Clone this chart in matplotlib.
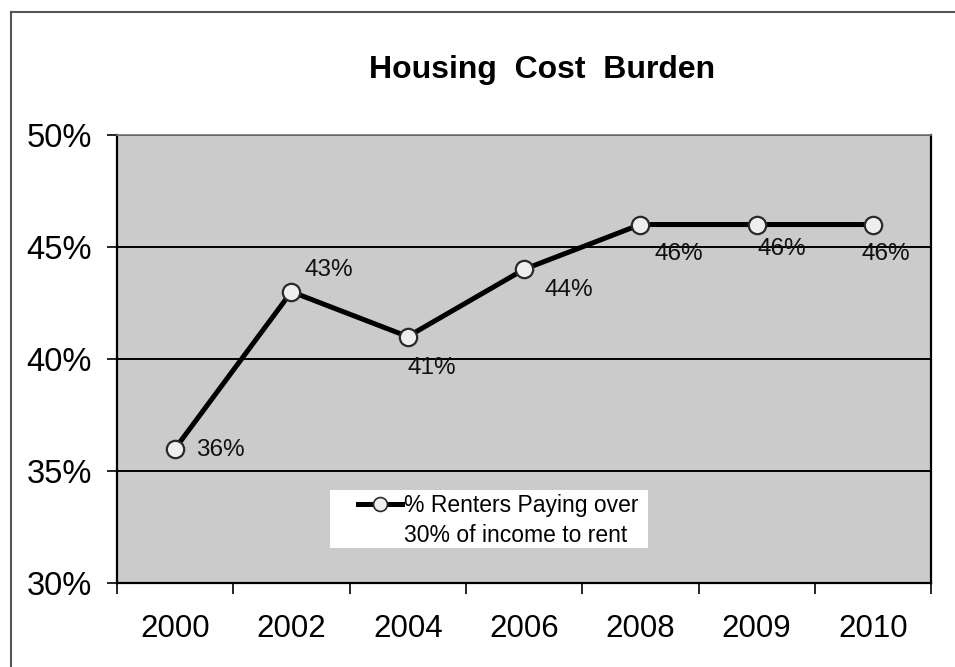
import matplotlib

matplotlib.use("Agg")
import matplotlib.pyplot as plt
import numpy as np
from matplotlib.lines import Line2D
from matplotlib.patches import Rectangle
from matplotlib.ticker import FuncFormatter

plt.rcParams["font.family"] = ["Liberation Sans", "DejaVu Sans"]

years = ["2000", "2002", "2004", "2006", "2008", "2009", "2010"]
share_over_30 = [36, 43, 41, 44, 46, 46, 46]  # % of renters
value_labels = ["36%", "43%", "41%", "44%", "46%", "46%", "46%"]

# where each value label sits relative to its point (pixels, up is +)
label_offsets = [(45, -1), (37, 22), (24, -31), (45, -21), (38, -29), (25, -24), (13, -29)]

fig = plt.figure(figsize=(9.55, 6.67), dpi=100)
fig.patch.set_facecolor("white")
ax = fig.add_axes([0.1225, 0.126, 0.8525, 0.6717])
ax.set_facecolor("#cbcbcb")

# page frame around the chart (left and top edges only)
fig.add_artist(Line2D([0.0115, 0.0115], [0.0, 0.982], transform=fig.transFigure,
                      color="#555555", lw=1.5))
fig.add_artist(Line2D([0.0115, 1.0], [0.982, 0.982], transform=fig.transFigure,
                      color="#555555", lw=1.5))

x = np.arange(len(years))
ax.plot(x, share_over_30, color="black", lw=3.6, marker="o", markersize=12.5,
        markerfacecolor="#eeeeee", markeredgecolor="#2a2a2a", markeredgewidth=1.6,
        zorder=4)

for xi, yi, txt, (dx, dy) in zip(x, share_over_30, value_labels, label_offsets):
    ax.annotate(txt, (xi, yi), xytext=(dx, dy), textcoords="offset pixels",
                ha="center", va="center", fontsize=17.5, color="#111111", zorder=5)

ax.set_xlim(-0.5, len(years) - 0.5)
ax.set_ylim(30, 50)
ax.set_yticks([30, 35, 40, 45, 50])
ax.yaxis.set_major_formatter(FuncFormatter(lambda v, _: f"{v:.0f}%"))
ax.set_xticks(x)
ax.set_xticklabels(years)
ax.set_xticks(np.arange(-0.5, len(years), 1), minor=True)

ax.tick_params(axis="x", which="major", length=0, pad=22, labelsize=22.5)
ax.tick_params(axis="x", which="minor", length=8, width=1.2, direction="out")
ax.tick_params(axis="y", length=7, width=1.2, pad=11, labelsize=23.5)

ax.grid(axis="y", color="black", lw=1.4)
ax.set_axisbelow(True)
for side in ["left", "bottom", "right"]:
    ax.spines[side].set_color("black")
    ax.spines[side].set_linewidth(1.6)
ax.spines["top"].set_color("#7a7a7a")
ax.spines["top"].set_linewidth(1.2)

fig.text(0.568, 0.895, "Housing  Cost  Burden", ha="center", va="center",
         fontsize=23, fontweight="bold")

# white legend panel, wider on the left than the text needs
ax.add_patch(Rectangle((0.2617, 0.078), 0.3907, 0.1295, transform=ax.transAxes,
                       facecolor="white", edgecolor="none", zorder=5))

# legend: second line of the label gets an empty handle so the marker sits on line one
handles = [
    Line2D([], [], color="black", lw=3.6, marker="o", markersize=10,
           markerfacecolor="#eeeeee", markeredgecolor="#2a2a2a", markeredgewidth=1.2),
    Line2D([], [], alpha=0),
]
leg = ax.legend(handles, ["% Renters Paying over", "30% of income to rent"],
                loc="upper left", bbox_to_anchor=(0.296, 0.199), borderaxespad=0,
                fontsize=16.5, handlelength=1.9, handletextpad=0.1,
                labelspacing=0.33, borderpad=0, frameon=False)
leg.set_zorder(6)

fig.savefig("out.png", dpi=100)
